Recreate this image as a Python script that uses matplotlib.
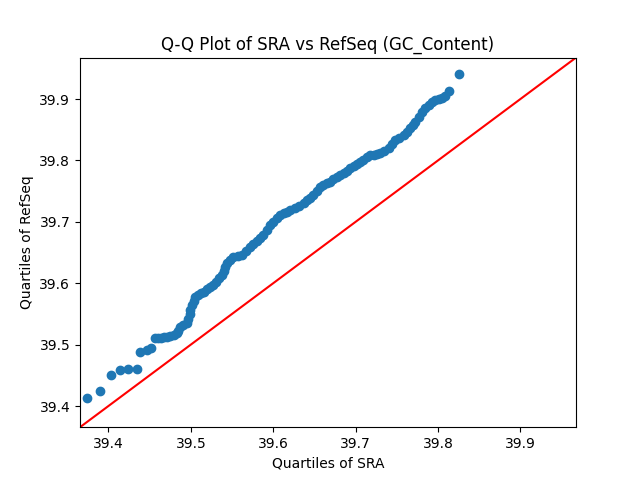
import matplotlib
matplotlib.use('Agg')
import matplotlib.pyplot as plt

# quantiles (x = SRA, y = RefSeq)
sra_q = [39.3745, 39.3900, 39.4033, 39.4142, 39.4243, 39.4345, 39.4385, 39.4466, 39.4519,
         39.4567, 39.4600, 39.4635, 39.4670, 39.4709, 39.4745, 39.4790, 39.4831,
         39.4850, 39.4871, 39.4910, 39.4952, 39.4970, 39.4985, 39.4992, 39.5015, 39.5035, 39.5053,
         39.5090, 39.5125, 39.5154, 39.5195, 39.5235, 39.5275, 39.5310, 39.5345, 39.5377,
         39.5400, 39.5420, 39.5438, 39.5470, 39.5518, 39.5570, 39.5620,
         39.5670, 39.5721, 39.5760, 39.5800, 39.5842, 39.5880, 39.5924, 39.5964, 39.6000,
         39.6045, 39.6085, 39.6125, 39.6165, 39.6207,
         39.6260, 39.6315, 39.6368, 39.6410, 39.6450, 39.6489, 39.6530, 39.6570, 39.6610,
         39.6650, 39.6692, 39.6730, 39.6772, 39.6813, 39.6855, 39.6895, 39.6935, 39.6975,
         39.7015, 39.7056, 39.7095, 39.7138, 39.7178,
         39.7220, 39.7260, 39.7299, 39.7350, 39.7400, 39.7440, 39.7482, 39.7530, 39.7582,
         39.7625, 39.7664, 39.7695, 39.7725, 39.7765, 39.7806, 39.7845, 39.7886, 39.7925,
         39.7967, 39.8010, 39.8049, 39.8089, 39.8129, 39.8250]
refseq_q = [39.4125, 39.4244, 39.4500, 39.4581, 39.4598, 39.4607, 39.4875, 39.4912, 39.4950,
            39.5103, 39.5108, 39.5112, 39.5118, 39.5129, 39.5140, 39.5158, 39.5184,
            39.5230, 39.5292, 39.5320, 39.5347, 39.5420, 39.5500, 39.5564, 39.5640, 39.5710, 39.5780,
            39.5810, 39.5840, 39.5862, 39.5900, 39.5935, 39.5971, 39.6020, 39.6080, 39.6134,
            39.6200, 39.6265, 39.6324, 39.6380, 39.6432, 39.6450, 39.6459,
            39.6520, 39.6594, 39.6640, 39.6685, 39.6731, 39.6790, 39.6866, 39.6948, 39.7000,
            39.7060, 39.7111, 39.7140, 39.7168, 39.7192,
            39.7230, 39.7265, 39.7301, 39.7350, 39.7395, 39.7436, 39.7500, 39.7572, 39.7600,
            39.7627, 39.7653, 39.7690, 39.7725, 39.7762, 39.7800, 39.7835, 39.7871, 39.7910,
            39.7945, 39.7979, 39.8015, 39.8052, 39.8088,
            39.8095, 39.8105, 39.8116, 39.8150, 39.8197, 39.8260, 39.8332, 39.8370, 39.8414,
            39.8470, 39.8523, 39.8580, 39.8630, 39.8710, 39.8793, 39.8850, 39.8902, 39.8945,
            39.8984, 39.8998, 39.9011, 39.9049, 39.9130, 39.9402]

lims = (39.3655, 39.9675)

fig, ax = plt.subplots(figsize=(6.4, 4.8), dpi=100)
ax.plot(sra_q, refseq_q, 'o', color='C0')
ax.axline((lims[0], lims[0]), slope=1, color='r')
ax.set_xlim(lims)
ax.set_ylim(lims)
ax.set_title('Q-Q Plot of SRA vs RefSeq (GC_Content)')
ax.set_xlabel('Quartiles of SRA')
ax.set_ylabel('Quartiles of RefSeq')
plt.savefig('out.png')
